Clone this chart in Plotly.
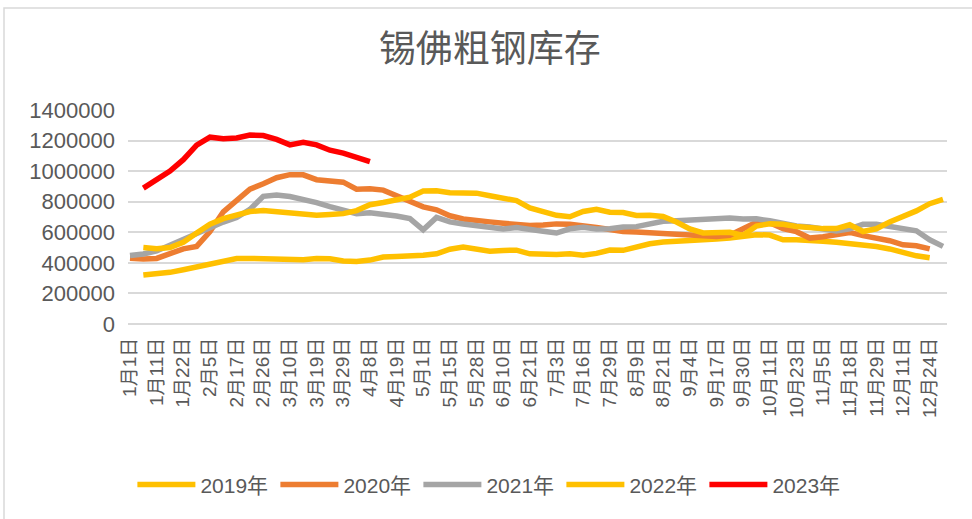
import plotly.graph_objects as go

# ---------------- data ----------------
tick_labels = ["1月1日", "1月11日", "1月22日", "2月5日", "2月17日", "2月26日", "3月10日",
               "3月19日", "3月29日", "4月8日", "4月19日", "5月1日", "5月15日", "5月28日",
               "6月10日", "6月21日", "7月3日", "7月16日", "7月29日", "8月9日", "8月21日",
               "9月4日", "9月17日", "9月30日", "10月11日", "10月23日", "11月5日", "11月18日",
               "11月29日", "12月11日", "12月24日"]

y2019 = [None,
         320000, 325000, 338000, 355000, 374000, 395000, 417000, 428000, 429000, 427000,
         425000, 423000, 420000, 428000, 427000, 412000, 409000, 418000, 438000, 442000,
         442000, 450000, 459000, 489000, 504000, 490000, 476000, 481000, 483000, 459000,
         455000, 454000, 459000, 450000, 462000, 484000, 482000, 505000, 525000, 536000,
         540000, 540000, 551000, 556000, 563000, 575000, 584000, 582000, 551000, 551000,
         550000, 542000, 535000, 527000, 520000, 507000, 491000, 465000, 446000, 433000,
         None]

y2020 = [430000, 425000, 429000, 464000, 492000, 508000, 605000, 734000, 808000, 882000,
         918000, 957000, 977000, 976000, 944000, 932000, 928000, 882000, 884000, 876000,
         839000, 801000, 766000, 747000, 708000, 687000, 674000, 668000, 659000, 651000,
         644000, 648000, 655000, 652000, 644000, 632000, 618000, 605000, 602000, 597000,
         592000, 587000, 583000, 573000, 573000, 580000, 620000, 665000, 663000, 624000,
         604000, 562000, 571000, 584000, 599000, 578000, 562000, 545000, 518000, 512000,
         491000, None]

y2021 = [448000, 458000, 478000, 517000, 555000, 594000, 631000, 667000, 696000, 750000,
         835000, 844000, 834000, 818000, 794000, 768000, 742000, 722000, 728000, 719000,
         706000, 690000, 616000, 697000, 668000, 654000, 642000, 636000, 621000, 631000,
         623000, 607000, 595000, 623000, 633000, 621000, 623000, 635000, 637000, 652000,
         672000, 676000, 679000, 683000, 692000, 693000, 687000, 688000, 675000, 655000,
         642000, 634000, 620000, 608000, 622000, 652000, 653000, 640000, 632000, 610000,
         551000, 508000]

y2022 = [None,
         501000, 493000, 500000, 535000, 595000, 653000, 689000, 715000, 736000, 743000,
         733000, 723000, 715000, 711000, 717000, 722000, 742000, 780000, 795000, 812000,
         830000, 870000, 871000, 859000, 855000, 856000, 839000, 827000, 807000, 760000,
         740000, 711000, 702000, 736000, 750000, 731000, 729000, 710000, 712000, 704000,
         667000, 622000, 596000, 597000, 600000, 580000, 641000, 656000, 652000, 638000,
         627000, 624000, 624000, 649000, 605000, 623000, 668000, 701000, 740000, 787000,
         815000]

y2023 = [None,
         889000, 945000, 1000000, 1075000, 1170000, 1222000, 1212000, 1217000, 1236000,
         1233000, 1208000, 1172000, 1188000, 1172000, 1137000, 1118000, 1090000, 1063000] + [None] * 43

series = [("2019年", y2019, "#FFC000"),
          ("2020年", y2020, "#ED7D31"),
          ("2021年", y2021, "#A5A5A5"),
          ("2022年", y2022, "#FFC000"),
          ("2023年", y2023, "#FF0000")]

# ---------------- figure ----------------
n = len(y2021)
x_idx = list(range(n))
tick_pos = list(range(0, 2 * len(tick_labels), 2))

fig = go.Figure()
for name, ys, color in series:
    fig.add_trace(go.Scatter(x=x_idx, y=ys, name=name, mode="lines",
                             line=dict(color=color, width=5.5), connectgaps=False))

font_main = "Liberation Sans, Noto Sans CJK SC, sans-serif"
grey_text = "#595959"

fig.update_layout(
    width=972, height=519,
    paper_bgcolor="white", plot_bgcolor="white",
    margin=dict(l=128, r=25, t=110, b=195),
    title=dict(text="锡佛粗钢库存", x=0.504, xref="container", xanchor="center",
               y=0.905, yref="container", yanchor="middle",
               font=dict(family="Noto Sans CJK SC, sans-serif", size=37, color=grey_text)),
    font=dict(family=font_main, color=grey_text),
    showlegend=True,
    legend=dict(orientation="h", x=0.504, xref="container", xanchor="center",
                y=0.066, yref="container", yanchor="middle",
                font=dict(size=21, color=grey_text, family=font_main),
                entrywidth=70, itemwidth=58),
    xaxis=dict(range=[-0.15, 61.3], tickmode="array", tickvals=tick_pos, ticktext=tick_labels,
               tickangle=-90, showgrid=False, zeroline=False, showline=False, ticks="",
               ticklabelstandoff=9,
               tickfont=dict(size=19, color=grey_text, family=font_main)),
    yaxis=dict(range=[0, 1400000], tickmode="array",
               tickvals=[0, 200000, 400000, 600000, 800000, 1000000, 1200000, 1400000],
               tickformat="d", showgrid=True, gridcolor="#D9D9D9", gridwidth=1.5,
               zeroline=True, zerolinecolor="#D9D9D9", zerolinewidth=1.5,
               showline=False, ticks="", ticklabelstandoff=12,
               tickfont=dict(size=22, color=grey_text, family=font_main)),
    shapes=[dict(type="rect", xref="paper", yref="paper",
                 x0=(4 - 128) / 819, x1=(975 - 128) / 819,
                 y0=-(530 - 324) / 214, y1=(324 - 8) / 214,
                 line=dict(color="#D9D9D9", width=1.5), fillcolor="rgba(0,0,0,0)", layer="below")],
)

fig.write_html("out.html", config={"displayModeBar": False},
               post_script="document.body.style.margin='0px';")
